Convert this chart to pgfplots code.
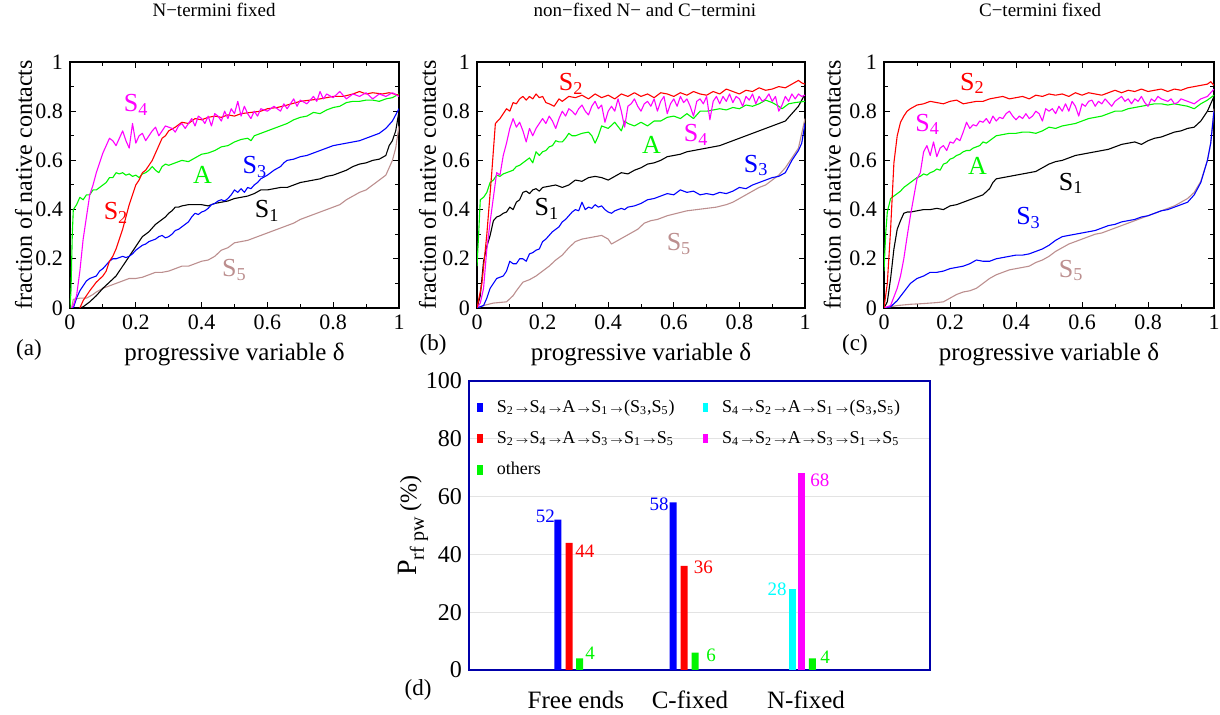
\documentclass[border=0pt]{standalone}
\usepackage{fontspec}
\setmainfont{Liberation Serif}
\usepackage{pgfplots}
\pgfplotsset{compat=1.18}
\definecolor{cred}{RGB}{255,0,0}
\definecolor{cgreen}{RGB}{0,245,0}
\definecolor{cblue}{RGB}{0,0,255}
\definecolor{cmag}{RGB}{255,0,255}
\definecolor{cbrown}{RGB}{188,143,143}
\definecolor{ccyan}{RGB}{0,255,255}
\definecolor{cframe}{RGB}{0,0,170}
\newcommand{\fs}[1]{\fontsize{#1}{#1}\selectfont}
\newcommand{\ra}{\kern0.8pt{\fs{5.5}$\rightarrow$}\kern0.3pt}
\newcommand{\lab}[4]{\node[text=#1, font=\fs{13}, inner sep=0pt] at (rel axis cs:#2,#3) {#4};}
\pgfplotsset{
  top/.style={scale only axis, height=123pt,
    xmin=0, xmax=1, ymin=0, ymax=1,
    xtick={0,0.2,0.4,0.6,0.8,1}, ytick={0,0.2,0.4,0.6,0.8,1},
    xticklabels={0,0.2,0.4,0.6,0.8,1}, yticklabels={0,0.2,0.4,0.6,0.8,1},
    minor tick num=1, tick align=inside, major tick length=3pt, minor tick length=1.8pt,
    tick style={black, line width=0.5pt}, axis line style={line width=0.6pt},
    ticklabel style={font=\fs{11}},
    /pgf/number format/assume math mode=true,
    xlabel={progressive variable δ}, ylabel={fraction of native contacts},
    xlabel style={font=\fs{12.5}, at={(axis description cs:0.5,-0.187)}, anchor=center},
    title style={font=\fs{9.5}, anchor=center},
    every axis plot/.append style={line width=0.55pt, line join=round},
  },
  barleg/.style={legend image code/.code={\fill[##1] (0pt,-2.3pt) rectangle (2.8pt,2.3pt);}},
}
\begin{document}
\begin{tikzpicture}
\useasboundingbox (0,0) rectangle (610pt,357.5pt);
% ---------------- (a) ----------------
\begin{axis}[top, width=164.5pt, at={(35pt,203.5pt)}, anchor=south west,
  ylabel style={font=\fs{12}, at={(axis description cs:-0.141,0.5)}, anchor=center},
  title={N−termini fixed}, title style={at={(axis description cs:0.438,1.163)}}]
\addplot[cbrown] coordinates {(0.005,0) (0.01,0.035) (0.03,0.04) (0.05,0.04) (0.07,0.055) (0.08,0.065) (0.10,0.08) (0.12,0.09) (0.14,0.10) (0.16,0.11) (0.18,0.12) (0.20,0.12) (0.22,0.125) (0.24,0.135) (0.26,0.145) (0.28,0.145) (0.30,0.15) (0.32,0.16) (0.34,0.17) (0.36,0.17) (0.38,0.18) (0.40,0.19) (0.42,0.195) (0.44,0.21) (0.46,0.235) (0.48,0.245) (0.50,0.265) (0.52,0.27) (0.54,0.275) (0.56,0.285) (0.58,0.295) (0.60,0.305) (0.62,0.315) (0.64,0.325) (0.66,0.335) (0.68,0.345) (0.70,0.36) (0.72,0.37) (0.74,0.38) (0.76,0.39) (0.78,0.40) (0.80,0.41) (0.82,0.42) (0.84,0.44) (0.86,0.455) (0.88,0.47) (0.90,0.48) (0.92,0.50) (0.94,0.52) (0.96,0.54) (0.97,0.57) (0.98,0.60) (0.99,0.65) (1.0,0.74)};
\addplot[black] coordinates {(0.03,0) (0.04,0.005) (0.06,0.025) (0.08,0.05) (0.10,0.08) (0.12,0.105) (0.14,0.13) (0.15,0.15) (0.16,0.17) (0.17,0.19) (0.18,0.21) (0.19,0.23) (0.20,0.25) (0.21,0.27) (0.22,0.29) (0.23,0.30) (0.24,0.31) (0.25,0.325) (0.26,0.34) (0.27,0.35) (0.28,0.36) (0.29,0.37) (0.30,0.385) (0.31,0.395) (0.32,0.41) (0.33,0.41) (0.34,0.415) (0.36,0.42) (0.38,0.42) (0.40,0.42) (0.42,0.415) (0.44,0.425) (0.46,0.43) (0.48,0.435) (0.50,0.445) (0.52,0.45) (0.54,0.455) (0.56,0.465) (0.58,0.48) (0.60,0.48) (0.62,0.485) (0.64,0.49) (0.66,0.49) (0.68,0.50) (0.70,0.51) (0.72,0.515) (0.74,0.52) (0.76,0.525) (0.78,0.535) (0.80,0.54) (0.82,0.55) (0.84,0.56) (0.86,0.575) (0.88,0.585) (0.90,0.59) (0.92,0.60) (0.94,0.605) (0.96,0.62) (0.97,0.66) (0.98,0.68) (0.99,0.72) (1.0,0.80)};
\addplot[cblue] coordinates {(0.01,0) (0.02,0.04) (0.03,0.07) (0.04,0.09) (0.05,0.11) (0.06,0.12) (0.07,0.125) (0.08,0.13) (0.09,0.15) (0.10,0.16) (0.11,0.175) (0.12,0.19) (0.13,0.20) (0.14,0.20) (0.15,0.205) (0.16,0.21) (0.17,0.205) (0.18,0.21) (0.19,0.22) (0.20,0.235) (0.21,0.245) (0.22,0.255) (0.23,0.26) (0.24,0.27) (0.25,0.275) (0.26,0.28) (0.27,0.29) (0.28,0.295) (0.29,0.285) (0.30,0.29) (0.31,0.30) (0.32,0.315) (0.33,0.32) (0.34,0.33) (0.35,0.34) (0.36,0.35) (0.37,0.37) (0.38,0.385) (0.39,0.38) (0.40,0.39) (0.41,0.395) (0.42,0.405) (0.43,0.42) (0.44,0.425) (0.45,0.435) (0.46,0.44) (0.47,0.435) (0.48,0.445) (0.49,0.46) (0.50,0.48) (0.51,0.47) (0.52,0.485) (0.53,0.47) (0.54,0.49) (0.55,0.485) (0.56,0.50) (0.57,0.51) (0.58,0.525) (0.60,0.54) (0.62,0.56) (0.64,0.575) (0.65,0.59) (0.66,0.6) (0.68,0.605) (0.70,0.615) (0.72,0.62) (0.74,0.63) (0.76,0.64) (0.78,0.65) (0.80,0.66) (0.82,0.665) (0.84,0.67) (0.86,0.675) (0.88,0.68) (0.90,0.69) (0.92,0.70) (0.94,0.71) (0.96,0.73) (0.98,0.76) (1.0,0.81)};
\addplot[cgreen] coordinates {(0.0,0.0) (0.003,0.07) (0.007,0.3) (0.01,0.4) (0.02,0.42) (0.03,0.45) (0.04,0.44) (0.05,0.46) (0.06,0.46) (0.07,0.48) (0.08,0.48) (0.09,0.49) (0.10,0.50) (0.11,0.51) (0.12,0.53) (0.13,0.53) (0.14,0.55) (0.15,0.545) (0.16,0.55) (0.17,0.54) (0.18,0.545) (0.19,0.535) (0.20,0.54) (0.21,0.53) (0.22,0.545) (0.23,0.55) (0.24,0.56) (0.25,0.575) (0.26,0.56) (0.27,0.55) (0.28,0.575) (0.29,0.585) (0.30,0.58) (0.32,0.59) (0.34,0.60) (0.36,0.595) (0.38,0.61) (0.40,0.625) (0.42,0.63) (0.44,0.64) (0.46,0.655) (0.48,0.66) (0.50,0.675) (0.52,0.685) (0.54,0.69) (0.55,0.68) (0.56,0.70) (0.58,0.71) (0.60,0.72) (0.62,0.73) (0.64,0.74) (0.66,0.75) (0.68,0.765) (0.70,0.775) (0.72,0.78) (0.74,0.795) (0.76,0.79) (0.78,0.805) (0.80,0.815) (0.82,0.82) (0.84,0.835) (0.86,0.84) (0.88,0.84) (0.90,0.845) (0.92,0.845) (0.94,0.84) (0.96,0.85) (0.98,0.855) (1.0,0.87)};
\addplot[cred] coordinates {(0.03,0) (0.04,0.03) (0.06,0.07) (0.08,0.105) (0.10,0.13) (0.11,0.15) (0.12,0.19) (0.13,0.21) (0.14,0.24) (0.15,0.28) (0.16,0.32) (0.17,0.37) (0.18,0.42) (0.19,0.46) (0.20,0.50) (0.21,0.52) (0.22,0.55) (0.23,0.56) (0.24,0.58) (0.25,0.60) (0.26,0.63) (0.27,0.66) (0.28,0.69) (0.29,0.70) (0.30,0.72) (0.32,0.735) (0.34,0.755) (0.36,0.75) (0.38,0.77) (0.40,0.765) (0.42,0.775) (0.44,0.78) (0.46,0.775) (0.48,0.785) (0.50,0.78) (0.52,0.79) (0.55,0.795) (0.58,0.80) (0.60,0.81) (0.63,0.815) (0.66,0.825) (0.70,0.84) (0.73,0.845) (0.76,0.85) (0.80,0.86) (0.83,0.86) (0.86,0.87) (0.88,0.88) (0.90,0.87) (0.92,0.875) (0.95,0.87) (0.97,0.875) (1.0,0.865)};
\addplot[cmag] coordinates {(0.005,0) (0.01,0.01) (0.02,0.05) (0.03,0.15) (0.04,0.28) (0.05,0.37) (0.06,0.46) (0.07,0.5) (0.08,0.55) (0.09,0.59) (0.10,0.63) (0.11,0.66) (0.12,0.69) (0.13,0.68) (0.14,0.66) (0.15,0.69) (0.16,0.72) (0.17,0.68) (0.18,0.65) (0.19,0.75) (0.20,0.67) (0.21,0.70) (0.22,0.71) (0.23,0.68) (0.24,0.70) (0.25,0.72) (0.26,0.735) (0.27,0.70) (0.28,0.72) (0.29,0.74) (0.30,0.735) (0.31,0.73) (0.32,0.715) (0.33,0.74) (0.34,0.75) (0.35,0.73) (0.36,0.75) (0.37,0.77) (0.38,0.74) (0.39,0.78) (0.40,0.77) (0.41,0.75) (0.42,0.78) (0.43,0.74) (0.44,0.79) (0.45,0.78) (0.46,0.76) (0.47,0.80) (0.48,0.77) (0.49,0.81) (0.50,0.79) (0.51,0.84) (0.52,0.78) (0.53,0.82) (0.54,0.79) (0.55,0.77) (0.56,0.80) (0.57,0.78) (0.58,0.81) (0.60,0.80) (0.62,0.82) (0.64,0.80) (0.65,0.83) (0.66,0.81) (0.68,0.85) (0.69,0.82) (0.70,0.845) (0.72,0.83) (0.74,0.86) (0.75,0.84) (0.76,0.88) (0.77,0.85) (0.78,0.87) (0.80,0.855) (0.82,0.88) (0.84,0.85) (0.86,0.87) (0.88,0.86) (0.90,0.875) (0.92,0.85) (0.94,0.87) (0.96,0.86) (0.98,0.875) (1.0,0.86)};
\lab{cmag}{0.201}{0.827}{S\textsubscript{4}}
\lab{cred}{0.14}{0.386}{S\textsubscript{2}}
\lab{cgreen}{0.403}{0.541}{A}
\lab{cblue}{0.562}{0.573}{S\textsubscript{3}}
\lab{black}{0.599}{0.394}{S\textsubscript{1}}
\lab{cbrown}{0.50}{0.154}{S\textsubscript{5}}
\end{axis}
% ---------------- (b) ----------------
\begin{axis}[top, width=164pt, at={(238.5pt,203.5pt)}, anchor=south west,
  ylabel style={font=\fs{12}, at={(axis description cs:-0.151,0.5)}, anchor=center},
  title={non−fixed N− and C−termini}, title style={at={(axis description cs:0.512,1.163)}}]
\addplot[cbrown] coordinates {(0.0,0) (0.02,0.01) (0.05,0.02) (0.09,0.025) (0.11,0.05) (0.12,0.07) (0.14,0.105) (0.16,0.115) (0.18,0.13) (0.20,0.15) (0.22,0.17) (0.24,0.195) (0.26,0.215) (0.28,0.245) (0.30,0.27) (0.32,0.28) (0.34,0.285) (0.36,0.29) (0.38,0.295) (0.40,0.28) (0.41,0.26) (0.43,0.275) (0.45,0.29) (0.47,0.305) (0.49,0.32) (0.51,0.345) (0.53,0.355) (0.55,0.36) (0.58,0.375) (0.61,0.385) (0.64,0.395) (0.67,0.40) (0.70,0.405) (0.73,0.41) (0.76,0.42) (0.78,0.43) (0.80,0.445) (0.82,0.46) (0.84,0.475) (0.86,0.49) (0.88,0.50) (0.90,0.52) (0.92,0.54) (0.94,0.57) (0.96,0.61) (0.98,0.65) (1.0,0.77)};
\addplot[cblue] coordinates {(0.0,0) (0.02,0.01) (0.03,0.04) (0.04,0.08) (0.05,0.10) (0.06,0.12) (0.07,0.125) (0.08,0.13) (0.09,0.15) (0.10,0.19) (0.11,0.18) (0.12,0.18) (0.13,0.20) (0.14,0.20) (0.15,0.19) (0.16,0.22) (0.17,0.225) (0.18,0.235) (0.19,0.24) (0.20,0.27) (0.21,0.28) (0.22,0.295) (0.23,0.31) (0.24,0.32) (0.25,0.33) (0.26,0.35) (0.27,0.36) (0.28,0.375) (0.29,0.39) (0.30,0.40) (0.31,0.395) (0.32,0.43) (0.33,0.40) (0.34,0.41) (0.35,0.405) (0.36,0.42) (0.37,0.41) (0.38,0.415) (0.39,0.40) (0.40,0.39) (0.41,0.385) (0.42,0.395) (0.43,0.40) (0.44,0.405) (0.45,0.40) (0.46,0.41) (0.48,0.415) (0.50,0.425) (0.52,0.44) (0.54,0.445) (0.56,0.455) (0.58,0.465) (0.60,0.46) (0.62,0.48) (0.64,0.47) (0.66,0.475) (0.68,0.46) (0.70,0.465) (0.72,0.46) (0.74,0.47) (0.76,0.465) (0.78,0.475) (0.80,0.49) (0.82,0.485) (0.84,0.50) (0.86,0.51) (0.88,0.52) (0.90,0.53) (0.92,0.535) (0.94,0.55) (0.96,0.60) (0.98,0.64) (0.99,0.67) (1.0,0.75)};
\addplot[black] coordinates {(0.0,0) (0.01,0.05) (0.02,0.19) (0.03,0.25) (0.04,0.295) (0.05,0.355) (0.06,0.37) (0.07,0.375) (0.08,0.385) (0.09,0.39) (0.10,0.41) (0.11,0.40) (0.12,0.43) (0.13,0.44) (0.14,0.47) (0.15,0.475) (0.16,0.465) (0.17,0.48) (0.18,0.485) (0.19,0.475) (0.20,0.49) (0.22,0.495) (0.24,0.50) (0.26,0.49) (0.28,0.50) (0.30,0.52) (0.32,0.515) (0.34,0.53) (0.36,0.535) (0.38,0.53) (0.40,0.52) (0.42,0.535) (0.44,0.55) (0.46,0.545) (0.48,0.56) (0.50,0.57) (0.52,0.585) (0.54,0.59) (0.56,0.60) (0.58,0.615) (0.60,0.62) (0.62,0.625) (0.64,0.635) (0.66,0.64) (0.68,0.645) (0.70,0.65) (0.72,0.655) (0.74,0.66) (0.76,0.67) (0.78,0.68) (0.80,0.69) (0.82,0.70) (0.84,0.71) (0.86,0.72) (0.88,0.73) (0.90,0.74) (0.92,0.75) (0.94,0.76) (0.96,0.79) (0.98,0.82) (1.0,0.87)};
\addplot[cgreen] coordinates {(0.0,0.17) (0.005,0.3) (0.01,0.44) (0.02,0.45) (0.03,0.47) (0.04,0.51) (0.05,0.52) (0.06,0.54) (0.07,0.535) (0.08,0.545) (0.09,0.55) (0.10,0.555) (0.11,0.56) (0.12,0.575) (0.13,0.58) (0.14,0.59) (0.15,0.60) (0.16,0.61) (0.17,0.59) (0.18,0.635) (0.19,0.62) (0.20,0.635) (0.21,0.64) (0.22,0.655) (0.23,0.66) (0.24,0.68) (0.25,0.675) (0.26,0.675) (0.27,0.69) (0.28,0.71) (0.29,0.70) (0.30,0.70) (0.32,0.71) (0.34,0.715) (0.35,0.70) (0.36,0.67) (0.37,0.70) (0.38,0.74) (0.40,0.73) (0.42,0.755) (0.44,0.72) (0.45,0.76) (0.46,0.75) (0.48,0.74) (0.50,0.755) (0.52,0.74) (0.54,0.76) (0.56,0.76) (0.58,0.775) (0.60,0.78) (0.62,0.77) (0.64,0.79) (0.66,0.77) (0.68,0.80) (0.70,0.80) (0.72,0.805) (0.74,0.81) (0.76,0.805) (0.78,0.815) (0.80,0.81) (0.82,0.825) (0.84,0.82) (0.86,0.83) (0.88,0.845) (0.90,0.835) (0.92,0.82) (0.93,0.81) (0.95,0.83) (0.97,0.835) (1.0,0.84)};
\addplot[cmag] coordinates {(0.0,0) (0.01,0.02) (0.02,0.08) (0.03,0.24) (0.04,0.35) (0.05,0.45) (0.06,0.55) (0.07,0.54) (0.08,0.62) (0.09,0.67) (0.10,0.73) (0.11,0.77) (0.12,0.735) (0.13,0.755) (0.14,0.72) (0.15,0.675) (0.16,0.73) (0.17,0.70) (0.18,0.73) (0.19,0.75) (0.20,0.77) (0.21,0.75) (0.22,0.78) (0.23,0.76) (0.24,0.73) (0.25,0.77) (0.26,0.80) (0.27,0.78) (0.28,0.81) (0.29,0.80) (0.30,0.785) (0.31,0.81) (0.32,0.825) (0.33,0.80) (0.34,0.785) (0.35,0.82) (0.36,0.84) (0.37,0.81) (0.38,0.825) (0.39,0.755) (0.40,0.80) (0.41,0.82) (0.42,0.80) (0.43,0.85) (0.44,0.80) (0.45,0.735) (0.46,0.82) (0.47,0.83) (0.48,0.85) (0.49,0.82) (0.50,0.80) (0.51,0.83) (0.52,0.84) (0.53,0.82) (0.54,0.85) (0.55,0.80) (0.56,0.84) (0.57,0.86) (0.58,0.79) (0.59,0.83) (0.60,0.85) (0.61,0.82) (0.62,0.86) (0.63,0.835) (0.64,0.85) (0.65,0.82) (0.66,0.78) (0.67,0.84) (0.68,0.85) (0.69,0.83) (0.70,0.86) (0.71,0.765) (0.72,0.84) (0.73,0.86) (0.74,0.83) (0.75,0.86) (0.76,0.84) (0.77,0.87) (0.78,0.835) (0.79,0.86) (0.80,0.85) (0.81,0.82) (0.82,0.86) (0.83,0.845) (0.84,0.87) (0.85,0.83) (0.86,0.86) (0.87,0.84) (0.88,0.85) (0.89,0.87) (0.90,0.84) (0.91,0.86) (0.92,0.80) (0.93,0.825) (0.94,0.86) (0.95,0.84) (0.96,0.87) (0.97,0.85) (0.98,0.87) (0.99,0.86) (1.0,0.865)};
\addplot[cred] coordinates {(0.0,0) (0.015,0.1) (0.03,0.3) (0.045,0.55) (0.056,0.75) (0.07,0.77) (0.08,0.79) (0.09,0.81) (0.10,0.80) (0.11,0.835) (0.12,0.83) (0.13,0.85) (0.14,0.86) (0.15,0.845) (0.16,0.86) (0.17,0.85) (0.18,0.87) (0.19,0.855) (0.20,0.86) (0.21,0.835) (0.22,0.83) (0.235,0.82) (0.25,0.85) (0.26,0.84) (0.28,0.86) (0.30,0.855) (0.32,0.865) (0.34,0.85) (0.36,0.87) (0.38,0.855) (0.40,0.865) (0.42,0.85) (0.44,0.87) (0.46,0.86) (0.48,0.875) (0.50,0.86) (0.52,0.87) (0.54,0.855) (0.56,0.875) (0.58,0.87) (0.60,0.86) (0.62,0.875) (0.64,0.865) (0.66,0.88) (0.68,0.87) (0.70,0.865) (0.72,0.88) (0.74,0.87) (0.76,0.89) (0.78,0.88) (0.80,0.87) (0.82,0.885) (0.84,0.88) (0.86,0.895) (0.88,0.885) (0.90,0.89) (0.92,0.9) (0.94,0.895) (0.96,0.91) (0.98,0.925) (0.99,0.915) (1.0,0.91)};
\lab{cred}{0.287}{0.911}{S\textsubscript{2}}
\lab{cmag}{0.668}{0.705}{S\textsubscript{4}}
\lab{cgreen}{0.532}{0.661}{A}
\lab{black}{0.213}{0.402}{S\textsubscript{1}}
\lab{cblue}{0.851}{0.579}{S\textsubscript{3}}
\lab{cbrown}{0.616}{0.260}{S\textsubscript{5}}
\end{axis}
% ---------------- (c) ----------------
\begin{axis}[top, width=165pt, at={(442pt,203.5pt)}, anchor=south west,
  ylabel style={font=\fs{12}, at={(axis description cs:-0.157,0.5)}, anchor=center},
  title={C−termini fixed}, title style={at={(axis description cs:0.473,1.163)}}]
\addplot[cbrown] coordinates {(0.0,0) (0.02,0.005) (0.04,0.01) (0.08,0.015) (0.12,0.018) (0.16,0.022) (0.18,0.025) (0.20,0.04) (0.22,0.055) (0.24,0.065) (0.26,0.07) (0.28,0.08) (0.30,0.10) (0.32,0.12) (0.34,0.135) (0.36,0.145) (0.38,0.155) (0.40,0.16) (0.42,0.165) (0.44,0.17) (0.46,0.185) (0.48,0.195) (0.50,0.21) (0.52,0.23) (0.54,0.245) (0.56,0.26) (0.58,0.27) (0.60,0.28) (0.62,0.29) (0.64,0.30) (0.66,0.305) (0.68,0.315) (0.70,0.325) (0.72,0.335) (0.74,0.345) (0.76,0.355) (0.78,0.365) (0.80,0.375) (0.82,0.385) (0.84,0.395) (0.86,0.405) (0.88,0.415) (0.90,0.43) (0.92,0.445) (0.94,0.47) (0.96,0.515) (0.98,0.60) (0.99,0.67) (1.0,0.81)};
\addplot[cblue] coordinates {(0.0,0) (0.02,0.005) (0.04,0.03) (0.06,0.065) (0.08,0.10) (0.10,0.12) (0.12,0.13) (0.14,0.145) (0.16,0.145) (0.18,0.15) (0.20,0.16) (0.22,0.165) (0.24,0.17) (0.26,0.18) (0.28,0.195) (0.30,0.19) (0.32,0.19) (0.34,0.20) (0.36,0.205) (0.38,0.21) (0.40,0.215) (0.42,0.215) (0.44,0.22) (0.46,0.23) (0.48,0.24) (0.50,0.255) (0.52,0.275) (0.54,0.29) (0.56,0.295) (0.58,0.30) (0.60,0.305) (0.62,0.31) (0.64,0.315) (0.66,0.325) (0.68,0.335) (0.70,0.34) (0.72,0.35) (0.74,0.355) (0.76,0.36) (0.78,0.37) (0.80,0.375) (0.82,0.385) (0.84,0.395) (0.86,0.40) (0.88,0.41) (0.90,0.42) (0.92,0.43) (0.94,0.46) (0.96,0.51) (0.98,0.60) (0.99,0.67) (1.0,0.80)};
\addplot[black] coordinates {(0.0,0) (0.01,0.025) (0.02,0.12) (0.03,0.24) (0.04,0.32) (0.05,0.355) (0.06,0.385) (0.07,0.39) (0.08,0.39) (0.10,0.395) (0.12,0.40) (0.14,0.40) (0.16,0.405) (0.18,0.40) (0.20,0.415) (0.22,0.42) (0.24,0.43) (0.26,0.44) (0.28,0.45) (0.30,0.46) (0.32,0.485) (0.33,0.51) (0.34,0.525) (0.36,0.53) (0.38,0.535) (0.40,0.54) (0.42,0.545) (0.44,0.55) (0.46,0.555) (0.48,0.57) (0.50,0.585) (0.52,0.595) (0.54,0.60) (0.56,0.61) (0.58,0.62) (0.60,0.625) (0.62,0.63) (0.64,0.635) (0.66,0.64) (0.68,0.645) (0.70,0.655) (0.72,0.665) (0.74,0.67) (0.76,0.675) (0.78,0.665) (0.80,0.68) (0.82,0.69) (0.84,0.695) (0.86,0.705) (0.88,0.715) (0.90,0.72) (0.92,0.73) (0.94,0.735) (0.96,0.76) (0.98,0.80) (1.0,0.86)};
\addplot[cgreen] coordinates {(0.0,0.15) (0.005,0.3) (0.01,0.39) (0.02,0.445) (0.03,0.455) (0.04,0.465) (0.05,0.475) (0.06,0.49) (0.07,0.50) (0.08,0.51) (0.09,0.52) (0.10,0.53) (0.11,0.535) (0.12,0.545) (0.13,0.54) (0.14,0.55) (0.15,0.555) (0.16,0.565) (0.17,0.56) (0.18,0.585) (0.19,0.59) (0.20,0.605) (0.21,0.61) (0.22,0.62) (0.23,0.625) (0.24,0.635) (0.25,0.64) (0.26,0.64) (0.27,0.65) (0.28,0.655) (0.29,0.66) (0.30,0.675) (0.31,0.67) (0.32,0.68) (0.33,0.69) (0.34,0.70) (0.36,0.705) (0.38,0.71) (0.40,0.71) (0.42,0.715) (0.44,0.715) (0.46,0.71) (0.48,0.72) (0.50,0.735) (0.52,0.73) (0.54,0.74) (0.56,0.745) (0.58,0.75) (0.60,0.76) (0.62,0.77) (0.64,0.775) (0.66,0.78) (0.68,0.79) (0.70,0.80) (0.72,0.80) (0.74,0.81) (0.76,0.815) (0.78,0.82) (0.80,0.825) (0.82,0.83) (0.84,0.83) (0.86,0.825) (0.88,0.83) (0.90,0.825) (0.92,0.82) (0.94,0.81) (0.96,0.83) (0.98,0.845) (1.0,0.865)};
\addplot[cmag] coordinates {(0.0,0) (0.02,0.01) (0.04,0.08) (0.05,0.13) (0.06,0.20) (0.07,0.29) (0.08,0.375) (0.09,0.45) (0.10,0.525) (0.11,0.55) (0.12,0.635) (0.13,0.66) (0.14,0.62) (0.15,0.675) (0.16,0.615) (0.17,0.65) (0.18,0.66) (0.19,0.64) (0.20,0.675) (0.21,0.67) (0.22,0.69) (0.23,0.68) (0.24,0.715) (0.25,0.755) (0.26,0.73) (0.27,0.745) (0.28,0.74) (0.29,0.76) (0.30,0.755) (0.31,0.77) (0.32,0.75) (0.33,0.78) (0.34,0.76) (0.35,0.775) (0.36,0.77) (0.37,0.79) (0.38,0.80) (0.39,0.78) (0.40,0.765) (0.41,0.78) (0.42,0.77) (0.43,0.79) (0.44,0.77) (0.45,0.78) (0.46,0.80) (0.47,0.79) (0.48,0.76) (0.49,0.81) (0.50,0.80) (0.51,0.81) (0.52,0.79) (0.53,0.82) (0.54,0.80) (0.55,0.83) (0.56,0.80) (0.57,0.84) (0.58,0.82) (0.59,0.78) (0.60,0.83) (0.61,0.82) (0.62,0.84) (0.63,0.845) (0.64,0.82) (0.65,0.84) (0.66,0.83) (0.67,0.85) (0.68,0.835) (0.69,0.82) (0.70,0.84) (0.72,0.86) (0.73,0.84) (0.74,0.85) (0.75,0.83) (0.76,0.85) (0.77,0.84) (0.78,0.86) (0.79,0.835) (0.80,0.82) (0.81,0.85) (0.82,0.84) (0.83,0.86) (0.84,0.85) (0.86,0.84) (0.87,0.85) (0.88,0.83) (0.89,0.835) (0.90,0.85) (0.92,0.84) (0.94,0.83) (0.96,0.85) (0.98,0.86) (1.0,0.89)};
\addplot[cred] coordinates {(0.0,0) (0.01,0.1) (0.02,0.32) (0.03,0.59) (0.04,0.70) (0.05,0.755) (0.06,0.78) (0.07,0.80) (0.08,0.81) (0.10,0.825) (0.12,0.83) (0.14,0.84) (0.16,0.835) (0.18,0.83) (0.20,0.84) (0.22,0.845) (0.24,0.83) (0.26,0.835) (0.28,0.84) (0.30,0.84) (0.32,0.85) (0.34,0.855) (0.36,0.86) (0.38,0.85) (0.40,0.855) (0.42,0.86) (0.44,0.85) (0.46,0.865) (0.48,0.86) (0.50,0.87) (0.52,0.865) (0.54,0.87) (0.56,0.86) (0.58,0.875) (0.60,0.865) (0.62,0.875) (0.64,0.87) (0.66,0.865) (0.68,0.875) (0.70,0.885) (0.72,0.875) (0.74,0.885) (0.76,0.88) (0.78,0.89) (0.80,0.88) (0.82,0.885) (0.84,0.89) (0.86,0.88) (0.88,0.89) (0.90,0.885) (0.92,0.895) (0.94,0.90) (0.96,0.905) (0.98,0.91) (0.99,0.92) (1.0,0.905)};
\lab{cred}{0.268}{0.913}{S\textsubscript{2}}
\lab{cmag}{0.132}{0.746}{S\textsubscript{4}}
\lab{cgreen}{0.283}{0.579}{A}
\lab{black}{0.567}{0.506}{S\textsubscript{1}}
\lab{cblue}{0.438}{0.366}{S\textsubscript{3}}
\lab{cbrown}{0.567}{0.152}{S\textsubscript{5}}
\end{axis}
% ---------------- (d) ----------------
\begin{axis}[scale only axis, width=230.5pt, height=144.5pt, at={(234.5pt,22.5pt)}, anchor=south west,
  xmin=0.13, xmax=4.13, ymin=0, ymax=100,
  ytick={0,20,40,60,80,100}, xtick={1.058,2.047,3.054}, xticklabels={Free ends,C-fixed,N-fixed},
  major tick length=0pt, ymajorgrids, grid style={gray!22, line width=0.6pt},
  axis line style={cframe, line width=1.1pt},
  yticklabel style={font=\fs{12}}, xticklabel style={font=\fs{12.5}, yshift=-7pt},
  /pgf/number format/assume math mode=true,
  ylabel={{\fs{14}P}\textsubscript{\fs{10}rf pw} {\fs{12}(\%)}},
  ylabel style={at={(axis description cs:-0.121,0.5)}, anchor=center},
  legend columns=2, legend cell align=left,
  legend style={draw=none, fill=none, inner sep=0pt, font=\fs{9}, row sep=4pt,
    at={(rel axis cs:0.017,0.95)}, anchor=north west,
    /tikz/every even column/.append style={column sep=12pt},
    /tikz/every odd column/.append style={column sep=5pt}},
]
\addplot[ybar, bar width=3.5pt, bar shift=0pt, fill=cblue, draw=none, barleg] coordinates {(0.902,52) (1.900,58)};
\addlegendentry{S\textsubscript{2}\ra S\textsubscript{4}\ra A\ra S\textsubscript{1}\ra(S\textsubscript{3},S\textsubscript{5})}
\addplot[ybar, bar width=3.5pt, bar shift=0pt, fill=ccyan, draw=none, barleg] coordinates {(2.933,28)};
\addlegendentry{S\textsubscript{4}\ra S\textsubscript{2}\ra A\ra S\textsubscript{1}\ra(S\textsubscript{3},S\textsubscript{5})}
\addplot[ybar, bar width=3.5pt, bar shift=0pt, fill=cred, draw=none, barleg] coordinates {(0.998,44) (1.996,36)};
\addlegendentry{S\textsubscript{2}\ra S\textsubscript{4}\ra A\ra S\textsubscript{3}\ra S\textsubscript{1}\ra S\textsubscript{5}}
\addplot[ybar, bar width=3.5pt, bar shift=0pt, fill=cmag, draw=none, barleg] coordinates {(3.019,68)};
\addlegendentry{S\textsubscript{4}\ra S\textsubscript{2}\ra A\ra S\textsubscript{3}\ra S\textsubscript{1}\ra S\textsubscript{5}}
\addplot[ybar, bar width=3.5pt, bar shift=0pt, fill=cgreen, draw=none, barleg] coordinates {(1.089,4) (2.091,6) (3.110,4)};
\addlegendentry{others}
\node[text=cblue, anchor=east, font=\fs{9.5}, inner sep=0.5pt] at (axis cs:0.888,53.3) {52};
\node[text=cred, anchor=west, font=\fs{9.5}, inner sep=0.5pt] at (axis cs:1.04,41.2) {44};
\node[text=cgreen, anchor=west, font=\fs{9.5}, inner sep=0.5pt] at (axis cs:1.128,5.9) {4};
\node[text=cblue, anchor=east, font=\fs{9.5}, inner sep=0.5pt] at (axis cs:1.874,57.4) {58};
\node[text=cred, anchor=west, font=\fs{9.5}, inner sep=0.5pt] at (axis cs:2.07,35.5) {36};
\node[text=cgreen, anchor=west, font=\fs{9.5}, inner sep=0.5pt] at (axis cs:2.178,5.2) {6};
\node[text=ccyan, anchor=east, font=\fs{9.5}, inner sep=0.5pt] at (axis cs:2.898,28) {28};
\node[text=cmag, anchor=west, font=\fs{9.5}, inner sep=0.5pt] at (axis cs:3.08,65.7) {68};
\node[text=cgreen, anchor=west, font=\fs{9.5}, inner sep=0.5pt] at (axis cs:3.167,4.5) {4};
\end{axis}
% panel labels
\node[font=\fs{11.5}] at (14.5pt,182.5pt) {(a)};
\node[font=\fs{11.5}] at (216.5pt,185pt) {(b)};
\node[font=\fs{11.5}] at (427.5pt,185pt) {(c)};
\node[font=\fs{11.5}] at (209pt,12.5pt) {(d)};
\end{tikzpicture}
\end{document}
